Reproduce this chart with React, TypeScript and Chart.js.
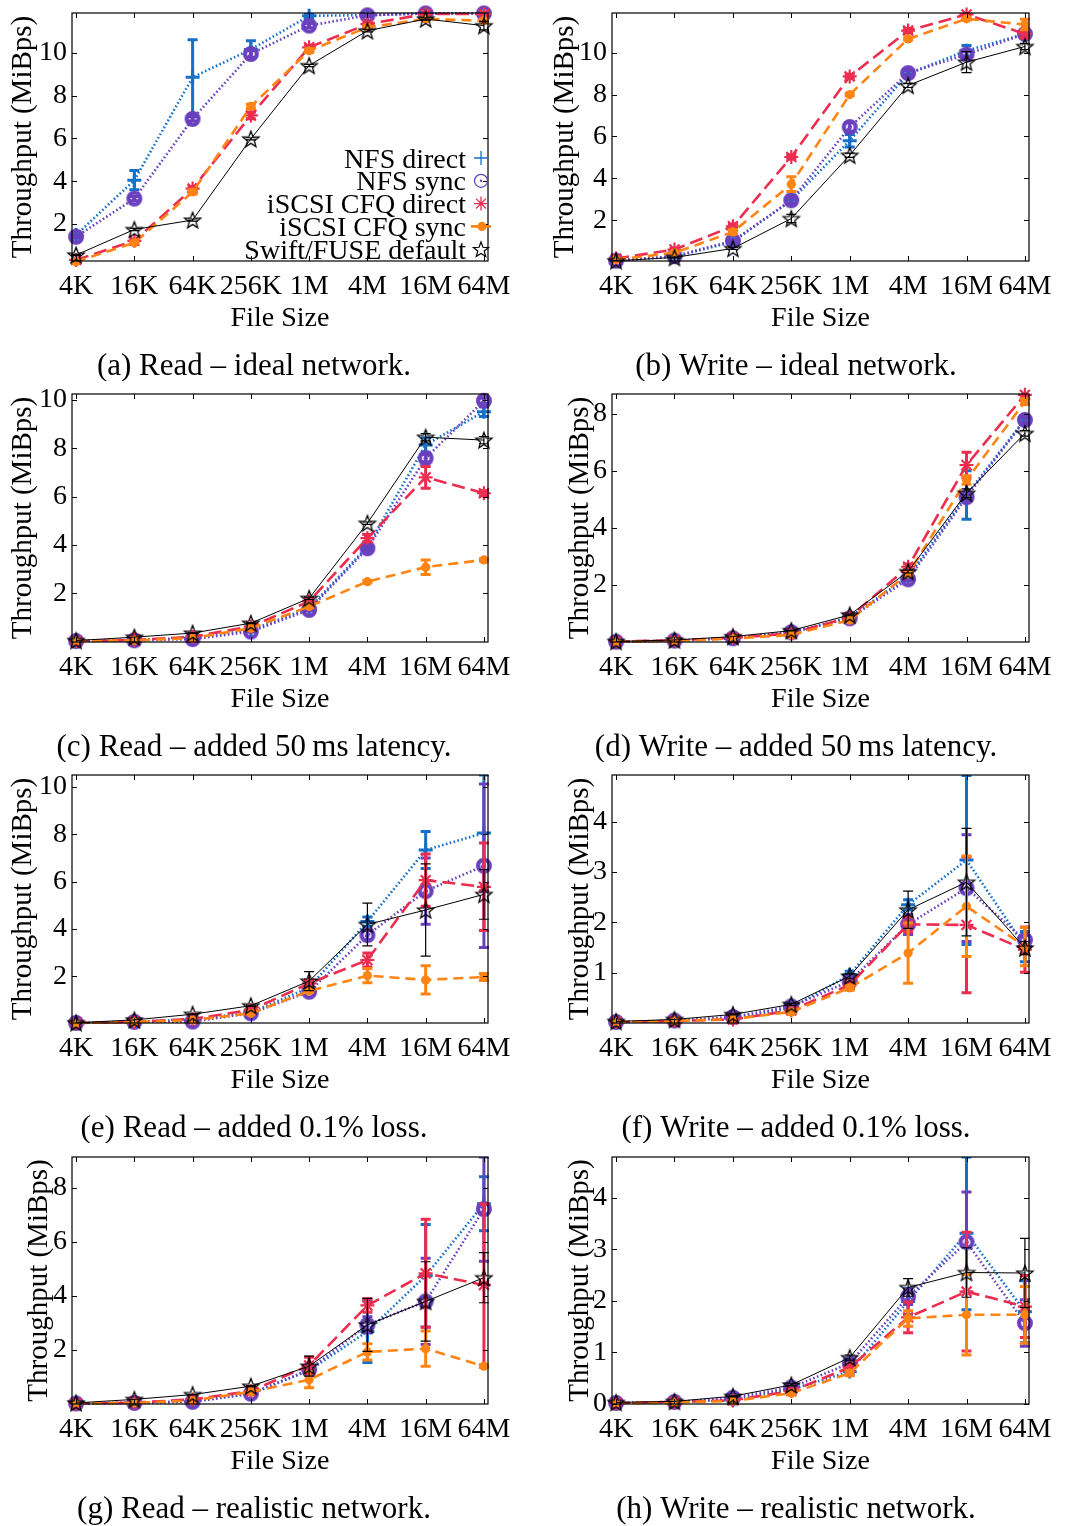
import React, { useEffect, useRef } from "react";
import { Chart, registerables } from "chart.js";
Chart.register(...registerables);

const FONT = "'Liberation Serif', 'Times New Roman', serif";

const fileSizes = ["4K", "16K", "64K", "256K", "1M", "4M", "16M", "64M"];
const seriesLabels = ["NFS direct", "NFS sync", "iSCSI CFQ direct", "iSCSI CFQ sync", "Swift/FUSE default"];

// (a) Read – ideal network
const aNfsDirect = [1.49, 4.05, 8.85, 10.15, 11.72, 11.75, 11.83, 11.83];
const aNfsDirectErr = [0.15, 0.45, 1.75, 0.4, 0.12, 0.05, 0.03, 0.03];
const aNfsSync = [1.41, 3.19, 6.91, 9.94, 11.26, 11.74, 11.83, 11.83];
const aNfsSyncErr = [0.05, 0.1, 0.1, 0.15, 0.1, 0.05, 0.03, 0.03];
const aIscsiDirect = [0.33, 1.22, 3.66, 7.07, 10.25, 11.33, 11.8, 11.8];
const aIscsiDirectErr = [0.03, 0.05, 0.1, 0.15, 0.1, 0.05, 0.03, 0.03];
const aIscsiSync = [0.25, 1.13, 3.5, 7.49, 10.09, 11.18, 11.57, 11.49];
const aIscsiSyncErr = [0.03, 0.05, 0.1, 0.1, 0.08, 0.05, 0.05, 0.08];
const aSwift = [0.56, 1.75, 2.19, 5.98, 9.4, 11.02, 11.57, 11.26];
const aSwiftErr = [0.03, 0.05, 0.05, 0.05, 0.05, 0.05, 0.05, 0.2];

// (b) Write – ideal network
const bNfsDirect = [0.09, 0.25, 0.97, 2.95, 5.8, 9.0, 10.1, 10.9];
const bNfsDirectErr = [0.01, 0.02, 0.1, 0.2, 0.3, 0.15, 0.25, 0.15];
const bNfsSync = [0.06, 0.28, 1.01, 2.95, 6.45, 9.03, 9.92, 10.9];
const bNfsSyncErr = [0.01, 0.02, 0.05, 0.15, 0.2, 0.15, 0.15, 0.15];
const bIscsiDirect = [0.17, 0.6, 1.71, 5.02, 8.87, 11.06, 11.83, 10.9];
const bIscsiDirectErr = [0.01, 0.05, 0.1, 0.1, 0.1, 0.1, 0.05, 0.2];
const bIscsiSync = [0.12, 0.44, 1.44, 3.72, 8.0, 10.66, 11.62, 11.35];
const bIscsiSyncErr = [0.01, 0.03, 0.1, 0.35, 0.05, 0.05, 0.05, 0.25];
const bSwift = [0.06, 0.22, 0.65, 2.08, 5.1, 8.44, 9.55, 10.3];
const bSwiftErr = [0.01, 0.02, 0.05, 0.2, 0.1, 0.1, 0.5, 0.15];

// (c) Read – added 50 ms latency
const cNfsDirect = [0.03, 0.07, 0.14, 0.48, 1.38, 3.93, 8.14, 9.52];
const cNfsDirectErr = [0, 0, 0, 0.02, 0.05, 0.1, 0.3, 0.2];
const cNfsSync = [0.02, 0.05, 0.1, 0.41, 1.31, 3.86, 7.59, 9.97];
const cNfsSyncErr = [0, 0, 0, 0.02, 0.05, 0.1, 0.15, 0.1];
const cIscsiDirect = [0.02, 0.06, 0.2, 0.62, 1.66, 4.28, 6.8, 6.14];
const cIscsiDirectErr = [0, 0, 0, 0.02, 0.1, 0.15, 0.45, 0.1];
const cIscsiSync = [0.02, 0.05, 0.14, 0.55, 1.45, 2.48, 3.08, 3.38];
const cIscsiSyncErr = [0, 0, 0, 0.02, 0.05, 0.05, 0.3, 0.05];
const cSwift = [0.04, 0.18, 0.35, 0.76, 1.79, 4.9, 8.46, 8.34];
const cSwiftErr = [0, 0, 0.01, 0.02, 0.05, 0.05, 0.15, 0.15];

// (d) Write – added 50 ms latency
const dNfsDirect = [0.01, 0.05, 0.13, 0.33, 0.87, 2.29, 5.16, 7.81];
const dNfsDirectErr = [0, 0, 0, 0.02, 0.05, 0.1, 0.85, 0.1];
const dNfsSync = [0.01, 0.05, 0.13, 0.34, 0.83, 2.2, 5.08, 7.79];
const dNfsSyncErr = [0, 0, 0, 0.02, 0.03, 0.05, 0.1, 0.1];
const dIscsiDirect = [0.02, 0.06, 0.15, 0.3, 0.87, 2.64, 6.21, 8.67];
const dIscsiDirectErr = [0, 0, 0, 0.02, 0.05, 0.1, 0.45, 0.1];
const dIscsiSync = [0.01, 0.04, 0.12, 0.25, 0.77, 2.39, 5.68, 8.43];
const dIscsiSyncErr = [0, 0, 0, 0.02, 0.03, 0.05, 0.15, 0.1];
const dSwift = [0.02, 0.07, 0.19, 0.4, 0.95, 2.47, 5.22, 7.32];
const dSwiftErr = [0, 0, 0, 0.01, 0.03, 0.05, 0.15, 0.1];

// (e) Read – added 0.1% loss
const eNfsDirect = [0.03, 0.09, 0.16, 0.48, 1.52, 4.31, 7.33, 8.05];
const eNfsDirectErr = [0, 0, 0, 0.02, 0.1, 0.2, 0.78, 2.45];
const eNfsSync = [0.03, 0.08, 0.09, 0.44, 1.35, 3.74, 5.6, 6.67];
const eNfsSyncErr = [0, 0, 0, 0.02, 0.05, 0.2, 1.4, 3.45];
const eIscsiDirect = [0.03, 0.08, 0.2, 0.58, 1.7, 2.69, 6.06, 5.78];
const eIscsiDirectErr = [0, 0, 0, 0.02, 0.1, 0.3, 1.1, 1.85];
const eIscsiSync = [0.03, 0.07, 0.15, 0.44, 1.38, 2.03, 1.85, 1.97];
const eIscsiSyncErr = [0, 0, 0, 0.02, 0.05, 0.3, 0.6, 0.15];
const eSwift = [0.04, 0.16, 0.4, 0.76, 1.8, 4.19, 4.8, 5.46];
const eSwiftErr = [0, 0, 0.02, 0.03, 0.4, 0.9, 1.95, 1.05];

// (f) Write – added 0.1% loss
const fNfsDirect = [0.02, 0.04, 0.1, 0.3, 0.96, 2.35, 3.24, 1.52];
const fNfsDirectErr = [0, 0, 0.01, 0.02, 0.07, 0.1, 1.68, 0.3];
const fNfsSync = [0.02, 0.05, 0.12, 0.33, 0.83, 1.96, 2.68, 1.65];
const fNfsSyncErr = [0, 0, 0.01, 0.02, 0.05, 0.2, 1.06, 0.1];
const fIscsiDirect = [0.02, 0.04, 0.07, 0.25, 0.76, 1.96, 1.95, 1.46];
const fIscsiDirectErr = [0, 0, 0.01, 0.02, 0.05, 0.15, 1.35, 0.45];
const fIscsiSync = [0.02, 0.04, 0.08, 0.22, 0.7, 1.39, 2.32, 1.52];
const fIscsiSyncErr = [0, 0, 0.01, 0.02, 0.05, 0.6, 1.0, 0.38];
const fSwift = [0.03, 0.07, 0.17, 0.37, 0.93, 2.25, 2.8, 1.49];
const fSwiftErr = [0, 0, 0.01, 0.02, 0.05, 0.37, 1.07, 0.13];

// (g) Read – realistic network
const gNfsDirect = [0.02, 0.05, 0.1, 0.38, 1.24, 2.69, 4.75, 7.42];
const gNfsDirectErr = [0, 0, 0, 0.02, 0.1, 1.15, 1.9, 1.0];
const gNfsSync = [0.02, 0.04, 0.08, 0.38, 1.27, 2.93, 3.8, 7.22];
const gNfsSyncErr = [0, 0, 0, 0.02, 0.05, 0.3, 1.6, 1.93];
const gIscsiDirect = [0.02, 0.05, 0.17, 0.48, 1.43, 3.65, 4.84, 4.41];
const gIscsiDirectErr = [0, 0, 0, 0.02, 0.3, 0.25, 2.0, 3.0];
const gIscsiSync = [0.02, 0.04, 0.13, 0.45, 0.9, 1.93, 2.05, 1.4];
const gIscsiSyncErr = [0, 0, 0, 0.02, 0.3, 0.3, 0.65, 0.05];
const gSwift = [0.04, 0.17, 0.35, 0.66, 1.4, 2.93, 3.8, 4.68];
const gSwiftErr = [0, 0, 0.01, 0.02, 0.37, 0.98, 1.47, 0.93];

// (h) Write – realistic network
const hNfsDirect = [0.02, 0.04, 0.08, 0.28, 0.63, 1.99, 3.31, 1.79];
const hNfsDirectErr = [0, 0, 0, 0.02, 0.06, 0.25, 1.48, 0.6];
const hNfsSync = [0.02, 0.04, 0.12, 0.32, 0.79, 2.08, 3.14, 1.57];
const hNfsSyncErr = [0, 0, 0.01, 0.02, 0.05, 0.15, 0.97, 0.45];
const hIscsiDirect = [0.02, 0.04, 0.07, 0.25, 0.71, 1.68, 2.18, 1.89];
const hIscsiDirectErr = [0, 0, 0, 0.02, 0.05, 0.3, 1.15, 0.6];
const hIscsiSync = [0.01, 0.03, 0.06, 0.21, 0.6, 1.66, 1.73, 1.73];
const hIscsiSyncErr = [0, 0, 0, 0.02, 0.05, 0.15, 0.78, 0.55];
const hSwift = [0.03, 0.05, 0.15, 0.37, 0.9, 2.26, 2.55, 2.54];
const hSwiftErr = [0, 0, 0.01, 0.02, 0.05, 0.17, 0.48, 0.67];

// y tick labels per panel
const yTicksEven10 = [2, 4, 6, 8, 10];
const yTicksEven8 = [2, 4, 6, 8];
const yTicksOneToFour = [1, 2, 3, 4];
const yTicksZeroToFour = [0, 1, 2, 3, 4];

type Panel = {
  caption: string;
  values: number[][];
  errors: number[][];
  yMin: number;
  yMax: number;
  yTicks: number[];
  yTitleX: number;
  legend: boolean;
};

const panels: Panel[] = [
  { caption: "(a) Read – ideal network.", values: [aNfsDirect, aNfsSync, aIscsiDirect, aIscsiSync, aSwift], errors: [aNfsDirectErr, aNfsSyncErr, aIscsiDirectErr, aIscsiSyncErr, aSwiftErr], yMin: 0.28, yMax: 11.85, yTicks: yTicksEven10, yTitleX: 23, legend: true },
  { caption: "(b) Write – ideal network.", values: [bNfsDirect, bNfsSync, bIscsiDirect, bIscsiSync, bSwift], errors: [bNfsDirectErr, bNfsSyncErr, bIscsiDirectErr, bIscsiSyncErr, bSwiftErr], yMin: 0.05, yMax: 11.9, yTicks: yTicksEven10, yTitleX: 25, legend: false },
  { caption: "(c) Read – added 50\u2009ms latency.", values: [cNfsDirect, cNfsSync, cIscsiDirect, cIscsiSync, cSwift], errors: [cNfsDirectErr, cNfsSyncErr, cIscsiDirectErr, cIscsiSyncErr, cSwiftErr], yMin: -0.02, yMax: 10.25, yTicks: yTicksEven10, yTitleX: 23, legend: false },
  { caption: "(d) Write – added 50\u2009ms latency.", values: [dNfsDirect, dNfsSync, dIscsiDirect, dIscsiSync, dSwift], errors: [dNfsDirectErr, dNfsSyncErr, dIscsiDirectErr, dIscsiSyncErr, dSwiftErr], yMin: 0, yMax: 8.7, yTicks: yTicksEven8, yTitleX: 40, legend: false },
  { caption: "(e) Read – added 0.1% loss.", values: [eNfsDirect, eNfsSync, eIscsiDirect, eIscsiSync, eSwift], errors: [eNfsDirectErr, eNfsSyncErr, eIscsiDirectErr, eIscsiSyncErr, eSwiftErr], yMin: 0.03, yMax: 10.5, yTicks: yTicksEven10, yTitleX: 23, legend: false },
  { caption: "(f) Write – added 0.1% loss.", values: [fNfsDirect, fNfsSync, fIscsiDirect, fIscsiSync, fSwift], errors: [fNfsDirectErr, fNfsSyncErr, fIscsiDirectErr, fIscsiSyncErr, fSwiftErr], yMin: 0, yMax: 4.93, yTicks: yTicksOneToFour, yTitleX: 40, legend: false },
  { caption: "(g) Read – realistic network.", values: [gNfsDirect, gNfsSync, gIscsiDirect, gIscsiSync, gSwift], errors: [gNfsDirectErr, gNfsSyncErr, gIscsiDirectErr, gIscsiSyncErr, gSwiftErr], yMin: 0, yMax: 9.15, yTicks: yTicksEven8, yTitleX: 39, legend: false },
  { caption: "(h) Write – realistic network.", values: [hNfsDirect, hNfsSync, hIscsiDirect, hIscsiSync, hSwift], errors: [hNfsDirectErr, hNfsSyncErr, hIscsiDirectErr, hIscsiSyncErr, hSwiftErr], yMin: 0, yMax: 4.79, yTicks: yTicksZeroToFour, yTitleX: 40, legend: false },
];

// ---- layout (page pixels) ----
const ROW_TOPS = [0, 381, 762, 1143];
const ROW_HEIGHTS = [381, 381, 381, 383];
const PLOT_TB = [[13, 261], [394, 642], [775, 1023], [1157, 1404]];
const COLS = [
  { x: 0, w: 540, l: 72, r: 488, cap: 254 },
  { x: 540, w: 529, l: 72, r: 489, cap: 256 },
];

// ---- styles ----
const C_BLUE = "#1470c8";
const C_PURPLE = "#6a40be";
const C_RED = "#ec2d50";
const C_ORANGE = "#ff8414";
const C_BLACK = "#000000";

function drawStarPath(ctx: CanvasRenderingContext2D, cx: number, cy: number, ro: number, ri: number) {
  ctx.beginPath();
  for (let k = 0; k < 10; k++) {
    const r = k % 2 === 0 ? ro : ri;
    const a = -Math.PI / 2 + (k * Math.PI) / 5;
    const px = cx + r * Math.cos(a);
    const py = cy + r * Math.sin(a);
    if (k === 0) ctx.moveTo(px, py);
    else ctx.lineTo(px, py);
  }
  ctx.closePath();
}

function makeStarImage(): HTMLCanvasElement {
  const c = document.createElement("canvas");
  c.width = 22;
  c.height = 22;
  const ctx = c.getContext("2d")!;
  drawStarPath(ctx, 11, 11.8, 8.5, 3.6);
  ctx.strokeStyle = C_BLACK;
  ctx.lineWidth = 1.3;
  ctx.lineJoin = "miter";
  ctx.stroke();
  return c;
}

function makeRingImage(): HTMLCanvasElement {
  const c = document.createElement("canvas");
  c.width = 20;
  c.height = 20;
  const ctx = c.getContext("2d")!;
  ctx.strokeStyle = C_PURPLE;
  ctx.fillStyle = C_PURPLE;
  ctx.lineWidth = 4.2;
  ctx.beginPath();
  ctx.arc(10, 10, 5.9, 0, Math.PI * 2);
  ctx.stroke();
  ctx.beginPath();
  ctx.arc(10, 10, 2.2, 0, Math.PI * 2);
  ctx.fill();
  return c;
}

type SeriesStyle = {
  color: string;
  dash: number[];
  width: number;
  pointStyle: any;
  radius: number;
  pointBorder: number;
  errWidth: number;
  order: number;
};

function buildStyles(): SeriesStyle[] {
  const star = makeStarImage();
  const ring = makeRingImage();
  return [
    { color: C_BLUE, dash: [1.6, 2.4], width: 2.6, pointStyle: "cross", radius: 7, pointBorder: 3, errWidth: 3, order: 4 },
    { color: C_PURPLE, dash: [1.6, 2.4], width: 2.6, pointStyle: ring, radius: 8, pointBorder: 0, errWidth: 3, order: 3 },
    { color: C_RED, dash: [13, 6], width: 2.6, pointStyle: "star", radius: 7, pointBorder: 2.2, errWidth: 3, order: 2 },
    { color: C_ORANGE, dash: [10, 6], width: 2.6, pointStyle: "circle", radius: 4.6, pointBorder: 0, errWidth: 3, order: 1 },
    { color: C_BLACK, dash: [], width: 1, pointStyle: star, radius: 8, pointBorder: 1, errWidth: 1.2, order: 0 },
  ];
}

function drawLegendSymbol(ctx: CanvasRenderingContext2D, idx: number, x: number, y: number) {
  ctx.save();
  ctx.setLineDash([]);
  if (idx === 0) {
    ctx.strokeStyle = C_BLUE;
    ctx.lineWidth = 1.3;
    ctx.beginPath();
    ctx.moveTo(x - 7, y);
    ctx.lineTo(x + 7, y);
    ctx.moveTo(x, y - 7);
    ctx.lineTo(x, y + 7);
    ctx.stroke();
  } else if (idx === 1) {
    ctx.strokeStyle = C_PURPLE;
    ctx.fillStyle = C_PURPLE;
    ctx.lineWidth = 1.3;
    ctx.beginPath();
    ctx.arc(x, y, 6.5, 0, Math.PI * 2);
    ctx.stroke();
    ctx.beginPath();
    ctx.arc(x, y, 1.2, 0, Math.PI * 2);
    ctx.fill();
  } else if (idx === 2) {
    ctx.strokeStyle = C_RED;
    ctx.lineWidth = 1.3;
    ctx.beginPath();
    for (let k = 0; k < 4; k++) {
      const a = (k * Math.PI) / 4;
      ctx.moveTo(x - 7 * Math.cos(a), y - 7 * Math.sin(a));
      ctx.lineTo(x + 7 * Math.cos(a), y + 7 * Math.sin(a));
    }
    ctx.stroke();
  } else if (idx === 3) {
    ctx.strokeStyle = C_ORANGE;
    ctx.fillStyle = C_ORANGE;
    ctx.lineWidth = 2.6;
    ctx.beginPath();
    ctx.moveTo(x - 10, y);
    ctx.lineTo(x + 1, y);
    ctx.moveTo(x + 5, y);
    ctx.lineTo(x + 10, y);
    ctx.stroke();
    ctx.beginPath();
    ctx.arc(x + 1, y, 4.6, 0, Math.PI * 2);
    ctx.fill();
  } else {
    ctx.strokeStyle = C_BLACK;
    ctx.lineWidth = 1.2;
    drawStarPath(ctx, x, y + 0.8, 8, 3.4);
    ctx.stroke();
  }
  ctx.restore();
}

const decorPlugin = {
  id: "decor",
  beforeDatasetDraw(chart: any, args: any) {
    const ds = chart.data.datasets[args.index];
    const errs: number[] | undefined = ds.errors;
    if (!errs) return;
    const { ctx, chartArea: a } = chart;
    const xs = chart.scales.x;
    const ys = chart.scales.y;
    ctx.save();
    ctx.beginPath();
    ctx.rect(a.left - 8, a.top, a.right - a.left + 16, a.bottom - a.top);
    ctx.clip();
    ctx.strokeStyle = ds.borderColor;
    ctx.lineWidth = ds.errWidth;
    ctx.setLineDash([]);
    ctx.lineCap = "butt";
    ds.data.forEach((pt: any, i: number) => {
      const e = errs[i];
      if (!e) return;
      const px = xs.getPixelForValue(pt.x);
      const y1 = ys.getPixelForValue(pt.y - e);
      const y2 = ys.getPixelForValue(pt.y + e);
      ctx.beginPath();
      ctx.moveTo(px, y1);
      ctx.lineTo(px, y2);
      ctx.moveTo(px - 5, y1);
      ctx.lineTo(px + 5, y1);
      ctx.moveTo(px - 5, y2);
      ctx.lineTo(px + 5, y2);
      ctx.stroke();
    });
    ctx.restore();
  },
  afterDraw(chart: any, _args: any, opts: any) {
    const { ctx, chartArea: a } = chart;
    const xs = chart.scales.x;
    const ys = chart.scales.y;
    ctx.save();
    ctx.setLineDash([]);
    ctx.strokeStyle = "#000";
    // inner tick marks
    ctx.lineWidth = 1;
    ctx.beginPath();
    (opts.yTicks as number[]).forEach((v) => {
      const py = Math.round(ys.getPixelForValue(v)) + 0.5;
      ctx.moveTo(a.left, py);
      ctx.lineTo(a.left + 5, py);
      ctx.moveTo(a.right, py);
      ctx.lineTo(a.right - 5, py);
    });
    fileSizes.forEach((_, i) => {
      const px = Math.round(xs.getPixelForValue(i)) + 0.5;
      ctx.moveTo(px, a.bottom);
      ctx.lineTo(px, a.bottom - 5);
      ctx.moveTo(px, a.top);
      ctx.lineTo(px, a.top + 5);
    });
    ctx.stroke();
    // border
    ctx.lineWidth = 1.2;
    ctx.strokeRect(a.left, a.top, a.right - a.left, a.bottom - a.top);
    // legend
    if (opts.legend) {
      const baselines = [167.5, 190.3, 213.1, 235.9, 258.7];
      ctx.fillStyle = "#000";
      ctx.font = `28px ${FONT}`;
      ctx.textAlign = "right";
      ctx.textBaseline = "alphabetic";
      chart.data.datasets.forEach((ds: any, i: number) => {
        ctx.fillText(ds.label, 466, baselines[i]);
        drawLegendSymbol(ctx, i, 481, baselines[i] - 9.5);
      });
    }
    // caption
    ctx.fillStyle = "#000";
    ctx.font = `31px ${FONT}`;
    ctx.textAlign = "center";
    ctx.textBaseline = "alphabetic";
    ctx.fillText(opts.caption, opts.capX, opts.capY);
    ctx.restore();
  },
};

function PanelChart({ p, idx, styles }: { p: Panel; idx: number; styles: SeriesStyle[] }) {
  const ref = useRef<HTMLCanvasElement>(null);
  const row = Math.floor(idx / 2);
  const col = idx % 2;
  const top = ROW_TOPS[row];
  const h = ROW_HEIGHTS[row];
  const c = COLS[col];
  const relT = PLOT_TB[row][0] - top;
  const relB = PLOT_TB[row][1] - top;

  useEffect(() => {
    if (!ref.current) return;
    const datasets = p.values.map((vals, si) => {
      const s = styles[si];
      return {
        label: seriesLabels[si],
        data: vals.map((y, i) => ({ x: i, y })),
        errors: p.errors[si],
        errWidth: s.errWidth,
        borderColor: s.color,
        backgroundColor: s.color,
        borderWidth: s.width,
        borderDash: s.dash,
        borderCapStyle: "butt",
        tension: 0,
        pointStyle: s.pointStyle,
        pointRadius: s.radius,
        pointBorderWidth: s.pointBorder,
        pointBorderColor: s.color,
        pointBackgroundColor: s.color,
        clip: false,
        order: s.order,
      };
    });
    const chart = new Chart(ref.current, {
      type: "line",
      data: { datasets } as any,
      plugins: [decorPlugin as any],
      options: {
        animation: false,
        responsive: false,
        devicePixelRatio: 1,
        events: [],
        layout: { padding: { top: relT, right: c.w - c.r, left: 0, bottom: 0 } },
        plugins: {
          legend: { display: false },
          tooltip: { enabled: false },
          title: { display: false },
          decor: {
            yTicks: p.yTicks,
            legend: p.legend,
            caption: p.caption,
            capX: c.cap,
            capY: 375,
          },
        } as any,
        scales: {
          x: {
            type: "linear",
            min: -0.07,
            max: 7.07,
            afterBuildTicks: (s: any) => {
              s.ticks = fileSizes.map((_, i) => ({ value: i }));
            },
            afterFit: (s: any) => {
              s.height = h - relB;
              s.paddingLeft = 0;
              s.paddingRight = 0;
              s.paddingTop = 0;
              s.paddingBottom = 0;
            },
            grid: { display: false, drawTicks: false },
            border: { display: false },
            ticks: {
              autoSkip: false,
              maxRotation: 0,
              minRotation: 0,
              padding: 9,
              color: "#000",
              font: { family: FONT, size: 28 },
              callback: (v: any) => fileSizes[Math.round(Number(v))] ?? "",
            },
            title: {
              display: true,
              text: "File Size",
              color: "#000",
              font: { family: FONT, size: 28, lineHeight: 1 },
              padding: { top: 0, bottom: h - relB - 58 - 14 },
            },
          },
          y: {
            type: "linear",
            min: p.yMin,
            max: p.yMax,
            afterBuildTicks: (s: any) => {
              s.ticks = p.yTicks.map((v) => ({ value: v }));
            },
            afterFit: (s: any) => {
              s.width = c.l;
              s.paddingLeft = 0;
              s.paddingRight = 0;
              s.paddingTop = 0;
              s.paddingBottom = 0;
            },
            grid: { display: false, drawTicks: false },
            border: { display: false },
            ticks: {
              padding: 5,
              color: "#000",
              font: { family: FONT, size: 28 },
              callback: (v: any) => String(v),
            },
            title: {
              display: true,
              text: "Throughput (MiBps)",
              color: "#000",
              font: { family: FONT, size: 29, lineHeight: 1 },
              padding: { top: p.yTitleX - 14.5, bottom: 0 },
            },
          },
        },
      } as any,
    });
    return () => chart.destroy();
  }, []);

  return (
    <canvas
      ref={ref}
      width={c.w}
      height={h}
      style={{ position: "absolute", left: c.x, top, width: c.w, height: h }}
    />
  );
}

export default function App() {
  const stylesRef = useRef<SeriesStyle[] | null>(null);
  if (!stylesRef.current) stylesRef.current = buildStyles();
  return (
    <div style={{ position: "absolute", left: 0, top: 0, width: 1069, height: 1526, background: "#fff" }}>
      {panels.map((p, i) => (
        <PanelChart key={i} p={p} idx={i} styles={stylesRef.current!} />
      ))}
    </div>
  );
}
